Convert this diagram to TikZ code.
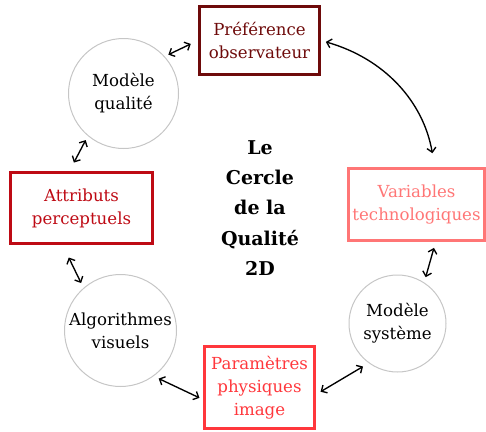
\documentclass[tikz,border=0pt]{standalone}
\usepackage{fontspec}
\setmainfont{DejaVu Serif}
\usetikzlibrary{arrows.meta}
\definecolor{rougefonce}{RGB}{110,10,10}
\definecolor{rougeattr}{RGB}{190,10,20}
\definecolor{rougevif}{RGB}{255,55,60}
\definecolor{rougeclair}{RGB}{255,118,118}

\begin{document}
\begin{tikzpicture}[x=1pt,y=-1pt,
				      boite/.style = {shape=rectangle, draw, line width=3pt,
						      align=center, inner sep=0pt,
						      font=\fontsize{16.6}{23}\selectfont},
				      cercle/.style = {shape=circle, draw=gray!45, line width=1pt,
						      align=center, inner sep=0pt, text=black,
						      font=\fontsize{16.6}{23}\selectfont},
				      fleche/.style = {{Straight Barb[length=4.5pt,width=9pt]}-{Straight Barb[length=4.5pt,width=9pt]},
						      line width=1.35pt}
			      ]
			      \useasboundingbox (0,0) rectangle (486,431);

			      \node[boite, draw=rougefonce, text=rougefonce, minimum width=120, minimum height=68] (pref) at (259.5,40.5) {Préférence\\observateur};
			      \node[cercle, minimum size=110] (mq) at (123.5,93.5) {Modèle\\qualité};
			      \node[boite, draw=rougeattr, text=rougeattr, minimum width=142, minimum height=71] (attr) at (81.5,208) {Attributs\\perceptuels};
			      \node[cercle, minimum size=112] (algo) at (120.5,330.5) {Algorithmes\\visuels};
			      \node[boite, draw=rougevif, text=rougevif, minimum width=110, minimum height=82] (param) at (259.5,387.5) {Paramètres\\physiques\\image};
			      \node[cercle, minimum size=97] (ms) at (397.5,323.5) {Modèle\\système};
			      \node[boite, draw=rougeclair, text=rougeclair, minimum width=136, minimum height=72] (var) at (416.5,204.5) {Variables\\technologiques};
			      \node[align=center, font=\fontsize{19}{30.3}\selectfont\bfseries] (titre) at (260,208) {Le\\Cercle\\de la\\Qualité\\2D};

			      \draw[fleche, shorten <=4pt, shorten >=8pt] (mq.42) -- (pref.west);
			      \draw[fleche, shorten <=4.6pt, shorten >=9.5pt] (mq.230) -- (attr.108);
			      \draw[fleche, shorten <=13.9pt, shorten >=5.4pt] (attr.243) -- (algo.131);
			      \draw[fleche, shorten <=5.5pt, shorten >=3.9pt] (algo.306) -- (param.192);
			      \draw[fleche, shorten <=5.3pt, shorten >=6.6pt] (param.353) -- (ms.234);
			      \draw[fleche, shorten <=6.1pt, shorten >=5.4pt] (var.297) -- (ms.57);
			      \draw[fleche, shorten <=5pt, shorten >=14pt] (pref.east) to[bend left=32] (var.64);
		      \end{tikzpicture}
\end{document}
